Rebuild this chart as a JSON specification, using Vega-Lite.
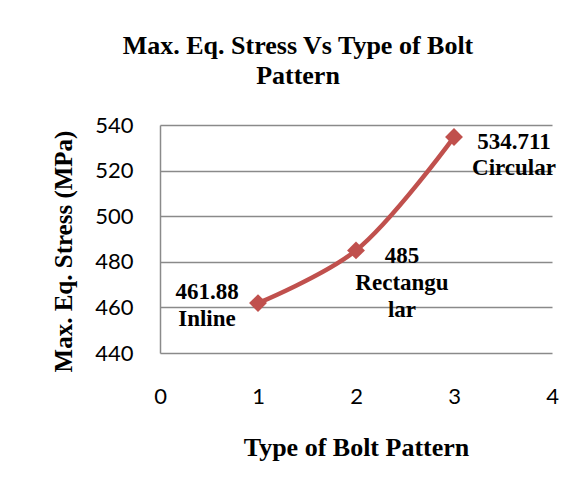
{
  "$schema": "https://vega.github.io/schema/vega-lite/v6.json",
  "width": 392,
  "height": 228,
  "autosize": "none",
  "padding": {"left": 160, "top": 125, "right": 30, "bottom": 134},
  "background": "white",
  "title": {
    "text": ["Max. Eq. Stress Vs Type of Bolt", "Pattern"],
    "font": "Liberation Serif",
    "fontSize": 26,
    "fontWeight": "bold",
    "color": "black",
    "anchor": "middle",
    "dx": -58,
    "offset": 25,
    "lineHeight": 30
  },
  "data": {
    "values": [
      {"type": 1, "stress": 461.88, "label": ["461.88", "Inline"], "name": "Inline"},
      {"type": 2, "stress": 485, "label": ["485", "Rectangu", "lar"], "name": "Rectangular"},
      {"type": 3, "stress": 534.711, "label": ["534.711", "Circular"], "name": "Circular"}
    ]
  },
  "encoding": {
    "x": {
      "field": "type",
      "type": "quantitative",
      "scale": {"domain": [0, 4], "nice": false},
      "axis": {
        "title": "Type of Bolt Pattern",
        "values": [0, 1, 2, 3, 4],
        "grid": false,
        "ticks": false,
        "domain": false,
        "labelFlush": false,
        "labelOverlap": false,
        "labelFont": "Lato",
        "labelFontSize": 22,
        "labelColor": "black",
        "labelBaseline": "alphabetic",
        "labelPadding": 50,
        "titleFont": "Liberation Serif",
        "titleFontSize": 26,
        "titleFontWeight": "bold",
        "titleColor": "black",
        "titleX": 196,
        "titleY": 102,
        "titleBaseline": "alphabetic",
        "titleAlign": "center"
      }
    },
    "y": {
      "field": "stress",
      "type": "quantitative",
      "scale": {"domain": [440, 540], "nice": false, "zero": false},
      "axis": {
        "title": "Max. Eq. Stress (MPa)",
        "values": [440, 460, 480, 500, 520, 540],
        "grid": true,
        "gridColor": "#8a8a8a",
        "gridWidth": 1.5,
        "ticks": false,
        "domain": true,
        "domainColor": "#8a8a8a",
        "domainWidth": 1.5,
        "labelFlush": false,
        "labelOverlap": false,
        "labelFont": "Lato",
        "labelFontSize": 22,
        "labelColor": "black",
        "labelPadding": 27,
        "titleFont": "Liberation Serif",
        "titleFontSize": 25,
        "titleFontWeight": "bold",
        "titleColor": "black",
        "titleAngle": -90,
        "titleX": -97,
        "titleY": 126,
        "titleBaseline": "middle",
        "titleAlign": "center"
      }
    }
  },
  "layer": [
    {
      "mark": {"type": "line", "color": "#C0504D", "strokeWidth": 4.5, "interpolate": "catmull-rom"}
    },
    {
      "mark": {"type": "point", "shape": "diamond", "size": 320, "filled": true, "color": "#C0504D", "opacity": 1}
    },
    {
      "transform": [{"filter": "datum.type == 1"}],
      "mark": {"type": "text", "font": "Liberation Serif", "fontSize": 23, "fontWeight": "bold", "color": "black", "align": "center", "baseline": "alphabetic", "dx": -51, "dy": -4, "lineHeight": 27},
      "encoding": {"text": {"field": "label"}}
    },
    {
      "transform": [{"filter": "datum.type == 2"}],
      "mark": {"type": "text", "font": "Liberation Serif", "fontSize": 23, "fontWeight": "bold", "color": "black", "align": "center", "baseline": "alphabetic", "dx": 46, "dy": 13, "lineHeight": 27},
      "encoding": {"text": {"field": "label"}}
    },
    {
      "transform": [{"filter": "datum.type == 3"}],
      "mark": {"type": "text", "font": "Liberation Serif", "fontSize": 23, "fontWeight": "bold", "color": "black", "align": "center", "baseline": "alphabetic", "dx": 60, "dy": 12, "lineHeight": 26},
      "encoding": {"text": {"field": "label"}}
    }
  ],
  "config": {"view": {"stroke": null}}
}
